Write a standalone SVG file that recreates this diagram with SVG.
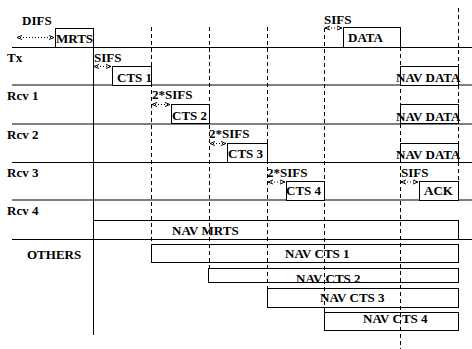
<svg xmlns="http://www.w3.org/2000/svg" width="472" height="349" viewBox="0 0 472 349">
<defs>
<style>
text{font-family:"Liberation Serif","Times New Roman",serif;font-weight:bold;font-size:13px;fill:#000}
.box{fill:#fff;stroke:#000;stroke-width:1}
.nav{fill:none;stroke:#000;stroke-width:1}
.row{stroke:#000;stroke-width:1}
.dash{stroke:#000;stroke-width:1;stroke-dasharray:4 3;fill:none}
.arr{stroke:#000;stroke-width:1;stroke-dasharray:1 2;fill:none;marker-start:url(#ah);marker-end:url(#ah)}
</style>
<marker id="ah" viewBox="0 0 6 6" refX="5" refY="3" markerWidth="6" markerHeight="6" markerUnits="userSpaceOnUse" orient="auto-start-reverse">
<path d="M0,1 L5,3 L0,5" fill="none" stroke="#000" stroke-width="1"/>
</marker>
</defs>
<rect width="472" height="349" fill="#fff"/>
<g id="grid">
<line class="row" x1="12" y1="47.5" x2="472" y2="47.5"/>
<line class="row" x1="12" y1="85" x2="472" y2="85"/>
<line class="row" x1="12" y1="124" x2="472" y2="124"/>
<line class="row" x1="12" y1="162.5" x2="472" y2="162.5"/>
<line class="row" x1="12" y1="200" x2="472" y2="200"/>
<line class="row" x1="12" y1="239.5" x2="472" y2="239.5"/>
<line class="row" x1="93.5" y1="28" x2="93.5" y2="335"/>
<line class="dash" x1="151.5" y1="27" x2="151.5" y2="244"/>
<line class="dash" x1="209.5" y1="27" x2="209.5" y2="268"/>
<line class="dash" x1="267.5" y1="27" x2="267.5" y2="288"/>
<line class="dash" x1="324.5" y1="28" x2="324.5" y2="312"/>
<line class="dash" x1="400.5" y1="47" x2="400.5" y2="349"/>
<line class="dash" x1="458.5" y1="8" x2="458.5" y2="200"/>
</g>
<g id="labels">
<text x="7" y="62">Tx</text>
<text x="7" y="100">Rcv 1</text>
<text x="7" y="139">Rcv 2</text>
<text x="7" y="177">Rcv 3</text>
<text x="7" y="215">Rcv 4</text>
<text x="27" y="259">OTHERS</text>
</g>
<g id="mrts"><rect class="box" x="55.5" y="28.5" width="38" height="19"/><text x="56" y="43">MRTS</text></g>
<g id="difs"><text x="22" y="25">DIFS</text></g>
<g id="cts1"><rect class="box" x="112.5" y="66.5" width="39" height="19"/><text x="117" y="82">CTS 1</text></g>
<g id="sifs1"><text x="94" y="62">SIFS</text></g>
<g id="cts2"><rect class="box" x="171.5" y="104.5" width="38" height="19"/><text x="172" y="120">CTS 2</text></g>
<g id="sifs2"><text x="152" y="99">2*SIFS</text></g>
<g id="cts3"><rect class="box" x="227.5" y="143.5" width="40" height="19"/><text x="228" y="158">CTS 3</text></g>
<g id="sifs3"><text x="209" y="138">2*SIFS</text></g>
<g id="cts4"><rect class="box" x="286.5" y="181.5" width="38" height="19"/><text x="286" y="195">CTS 4</text></g>
<g id="sifs4"><text x="267" y="177">2*SIFS</text></g>
<g id="data"><rect class="box" x="343.5" y="27.5" width="57" height="20"/><text x="348" y="42">DATA</text></g>
<g id="sifs5"><text x="324" y="24">SIFS</text></g>
<g id="navdata1"><rect class="box" x="400.5" y="66.5" width="58" height="19"/><text x="396" y="82">NAV DATA</text></g>
<g id="navdata2"><rect class="box" x="400.5" y="104.5" width="58" height="19"/><text x="396" y="121">NAV DATA</text></g>
<g id="navdata3"><rect class="box" x="400.5" y="143.5" width="58" height="19"/><text x="396" y="159">NAV DATA</text></g>
<g id="ack"><rect class="box" x="419.5" y="181.5" width="39" height="19"/><text x="424" y="195">ACK</text></g>
<g id="sifs6"><text x="401" y="177">SIFS</text></g>
<g id="navmrts"><rect class="nav" x="93.5" y="220.5" width="365" height="19"/><text x="172" y="235">NAV MRTS</text></g>
<g id="navcts1"><rect class="nav" x="151.5" y="244.5" width="307" height="18"/><text x="285" y="258">NAV CTS 1</text></g>
<g id="navcts2"><rect class="nav" x="208.5" y="268.5" width="250" height="14"/><text x="296" y="283">NAV CTS 2</text></g>
<g id="navcts3"><rect class="nav" x="267.5" y="288.5" width="191" height="19"/><text x="320" y="302">NAV CTS 3</text></g>
<g id="navcts4"><rect class="nav" x="324.5" y="312.5" width="134" height="18"/><text x="363" y="323">NAV CTS 4</text></g>
<g id="connectors">
<line class="arr" x1="17" y1="37.5" x2="54" y2="37.5"/>
<line class="arr" x1="94" y1="66.5" x2="111" y2="66.5"/>
<line class="arr" x1="152" y1="104.5" x2="170" y2="104.5"/>
<line class="arr" x1="210" y1="143.5" x2="226" y2="143.5"/>
<line class="arr" x1="268" y1="182" x2="285" y2="182"/>
<line class="arr" x1="325" y1="28" x2="342" y2="28"/>
<line class="arr" x1="401" y1="182" x2="418" y2="182"/>
</g>
</svg>
